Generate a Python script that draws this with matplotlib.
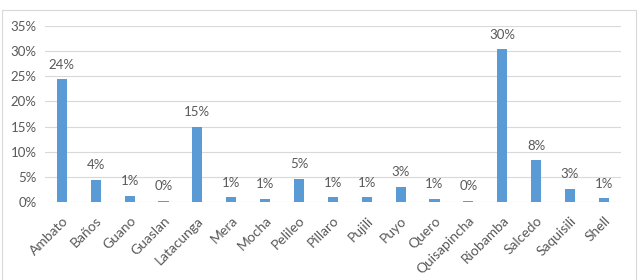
import matplotlib.pyplot as plt
from matplotlib.patches import Rectangle
from matplotlib.ticker import PercentFormatter

plt.rcParams['font.family'] = ['Lato', 'DejaVu Sans']

cities = ['Ambato', 'Baños', 'Guano', 'Guaslan', 'Latacunga', 'Mera', 'Mocha',
          'Pelileo', 'Pillaro', 'Pujili', 'Puyo', 'Quero', 'Quisapincha',
          'Riobamba', 'Salcedo', 'Saquisili', 'Shell']
shares = [0.244, 0.044, 0.012, 0.002, 0.150, 0.009, 0.006,
          0.046, 0.009, 0.009, 0.030, 0.006, 0.002,
          0.304, 0.083, 0.026, 0.007]

text_col = '#595959'

fig = plt.figure(figsize=(6.42, 2.8), dpi=100)
# chart border
fig.patches.append(Rectangle((2 / 642, -0.1), 634 / 642, 1.1 - 10 / 280,
                             transform=fig.transFigure, fill=False,
                             edgecolor='#D9D9D9', linewidth=0.8))
ax = fig.add_axes([0.070, 0.279, 0.897, 0.628])

x = range(len(cities))
bars = ax.bar(x, shares, width=0.3, color='#5B9BD5', zorder=2)
for b, v in zip(bars, shares):
    ax.text(b.get_x() + b.get_width() / 2, v + 0.017, f"{v:.0%}",
            ha='center', va='bottom', fontsize=9.5, color=text_col)

ax.set_xlim(-0.5, len(cities) - 0.5)
ax.set_ylim(0, 0.35)
ax.set_yticks([i * 0.05 for i in range(8)])
ax.yaxis.set_major_formatter(PercentFormatter(1.0, decimals=0))
ax.set_xticks(list(x))
ax.set_xticklabels(cities, rotation=45, ha='right', rotation_mode='anchor')
ax.tick_params(axis='y', length=0, labelsize=9.5, colors=text_col, pad=6)
ax.tick_params(axis='x', length=0, labelsize=10, colors=text_col, pad=9)
ax.grid(axis='y', color='#D9D9D9', linewidth=0.8, zorder=0)
for s in ax.spines.values():
    s.set_visible(False)

fig.savefig('out.png', dpi=100)
